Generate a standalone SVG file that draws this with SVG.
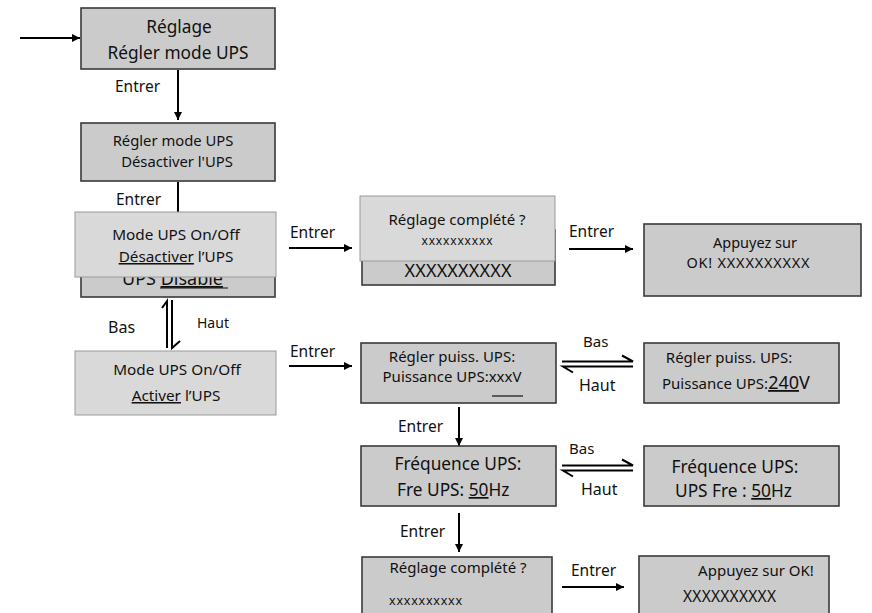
<svg xmlns="http://www.w3.org/2000/svg" width="872" height="613" viewBox="0 0 872 613">
<defs>
<marker id="ah" viewBox="0 0 10 10" refX="10" refY="5" markerWidth="4.5" markerHeight="4" orient="auto" markerUnits="strokeWidth">
<path d="M0,0 L10,5 L0,10 z" fill="#000"/>
</marker>
<style>
text{font-family:"Noto Sans","Open Sans","Liberation Sans",sans-serif;fill:#111}
.d{fill:#cbcbcb;stroke:#3a3a3a;stroke-width:1.6}
.l{fill:#d9d9d9;stroke:#9a9a9a;stroke-width:1}
.c{text-anchor:middle}
.a{stroke:#000;stroke-width:2;fill:none}
.u{stroke:#111;stroke-width:1.2}
.lb{font-size:15.5px}
</style>
</defs>
<rect width="872" height="613" fill="#fff"/>

<g id="connectors">
<line class="a" x1="20" y1="38" x2="80" y2="38" marker-end="url(#ah)"/>
<line class="a" x1="178" y1="70" x2="178" y2="120" marker-end="url(#ah)"/>
<line class="a" x1="178" y1="182" x2="178" y2="214"/>
<line class="a" x1="289" y1="248" x2="352" y2="248" marker-end="url(#ah)"/>
<line class="a" x1="569" y1="249" x2="633" y2="249" marker-end="url(#ah)"/>
<line class="a" x1="289" y1="366" x2="352" y2="366" marker-end="url(#ah)"/>
<line class="a" x1="459" y1="407" x2="459" y2="446" marker-end="url(#ah)"/>
<line class="a" x1="459" y1="513" x2="459" y2="552" marker-end="url(#ah)"/>
<line class="a" x1="562" y1="587" x2="624" y2="587" marker-end="url(#ah)"/>
<path class="a" d="M167,348 L167,301 L162,308"/>
<path class="a" d="M172,300 L172,348 L180,341"/>
<path class="a" d="M562,361.5 L633,361.5 L622,355.5"/>
<path class="a" d="M633,366.5 L563,366.5 L573,372.5"/>
<path class="a" d="M562,465.5 L633,465.5 L622,459.5"/>
<path class="a" d="M633,470.5 L563,470.5 L573,476.5"/>
<text class="lb" x="115" y="92">Entrer</text>
<text class="lb" x="116" y="205">Entrer</text>
<text class="lb" x="290" y="238">Entrer</text>
<text class="lb" x="290" y="357">Entrer</text>
<text class="lb" x="569" y="237">Entrer</text>
<text class="lb" x="398" y="432">Entrer</text>
<text class="lb" x="400" y="537">Entrer</text>
<text class="lb" x="571" y="576">Entrer</text>
<text x="108" y="333" font-size="16">Bas</text>
<text x="197" y="328" font-size="14">Haut</text>
<text x="583" y="347" font-size="15">Bas</text>
<text x="579" y="391" font-size="16">Haut</text>
<text x="569" y="454" font-size="15">Bas</text>
<text x="581" y="495" font-size="16">Haut</text>
</g>

<g id="n1">
<rect class="d" x="81" y="8" width="194" height="61"/>
<text class="c" x="179" y="33" font-size="17.3">Réglage</text>
<text class="c" x="178" y="59" font-size="17.3">Régler mode UPS</text>
</g>

<g id="n2">
<rect class="d" x="81" y="123" width="194" height="58"/>
<text class="c" x="173" y="146" font-size="14.8">Régler mode UPS</text>
<text class="c" x="177" y="167" font-size="14.8">Désactiver l'UPS</text>
</g>

<g id="n3back">
<rect class="d" x="81" y="222" width="194" height="75"/>
<text x="122" y="285" font-size="18">UPS <tspan text-decoration="underline">Disable </tspan></text>
<line class="u" x1="160" y1="288" x2="228" y2="288"/>
</g>

<g id="n3">
<rect class="l" x="75" y="212" width="201" height="65"/>
<text class="c" x="176" y="240" font-size="15.3">Mode UPS On/Off</text>
<text class="c" x="176" y="262" font-size="15.3"><tspan text-decoration="underline">Désactiver</tspan> l’UPS</text>
</g>

<g id="n4">
<rect class="l" x="75" y="351" width="201" height="64"/>
<text class="c" x="177" y="375" font-size="15.3">Mode UPS On/Off</text>
<text class="c" x="176" y="401" font-size="15.3"><tspan text-decoration="underline">Activer</tspan> l’UPS</text>
</g>

<g id="n5back">
<rect class="d" x="362" y="230" width="193" height="55"/>
<text class="c" x="458" y="277" font-size="18" textLength="107">XXXXXXXXXX</text>
</g>

<g id="n5">
<rect class="l" x="360" y="196" width="195" height="65"/>
<text class="c" x="457" y="225" font-size="15">Réglage complété ?</text>
<text class="c" x="457" y="245" font-size="12" textLength="71">xxxxxxxxxx</text>
</g>

<g id="n6">
<rect class="d" x="644" y="224" width="217" height="72"/>
<text class="c" x="755" y="248" font-size="14.5">Appuyez sur</text>
<text class="c" x="748" y="268" font-size="14.5" textLength="123">OK! XXXXXXXXXX</text>
</g>

<g id="n7">
<rect class="d" x="361" y="343" width="195" height="60"/>
<text class="c" x="452" y="362" font-size="15">Régler puiss. UPS:</text>
<text class="c" x="452" y="382" font-size="15">Puissance UPS:xxxV</text>
<line class="u" x1="492" y1="396" x2="523" y2="396"/>
</g>

<g id="n8">
<rect class="d" x="644" y="343" width="195" height="60"/>
<text class="c" x="729" y="363" font-size="15">Régler puiss. UPS:</text>
<text x="662" y="389" font-size="15">Puissance UPS:<tspan font-size="18" text-decoration="underline">240</tspan><tspan font-size="18">V</tspan></text>
</g>

<g id="n9">
<rect class="d" x="361" y="446" width="195" height="60"/>
<text class="c" x="458" y="470" font-size="17.3">Fréquence UPS:</text>
<text x="397" y="496" font-size="17.3">Fre UPS: <tspan text-decoration="underline">50</tspan>Hz</text>
</g>

<g id="n10">
<rect class="d" x="644" y="446" width="195" height="60"/>
<text class="c" x="735" y="473" font-size="17.3">Fréquence UPS:</text>
<text x="675" y="497" font-size="17.3">UPS Fre : <tspan text-decoration="underline">50</tspan>Hz</text>
</g>

<g id="n11">
<rect class="d" x="362" y="557" width="190" height="70"/>
<text class="c" x="458" y="573" font-size="15">Réglage complété ?</text>
<text x="389" y="605" font-size="12.5" textLength="73">xxxxxxxxxx</text>
</g>

<g id="n12">
<rect class="d" x="639" y="556" width="190" height="70"/>
<text class="c" x="756" y="576" font-size="15">Appuyez sur OK!</text>
<text x="683" y="602" font-size="15.5" textLength="93">XXXXXXXXXX</text>
</g>
</svg>
